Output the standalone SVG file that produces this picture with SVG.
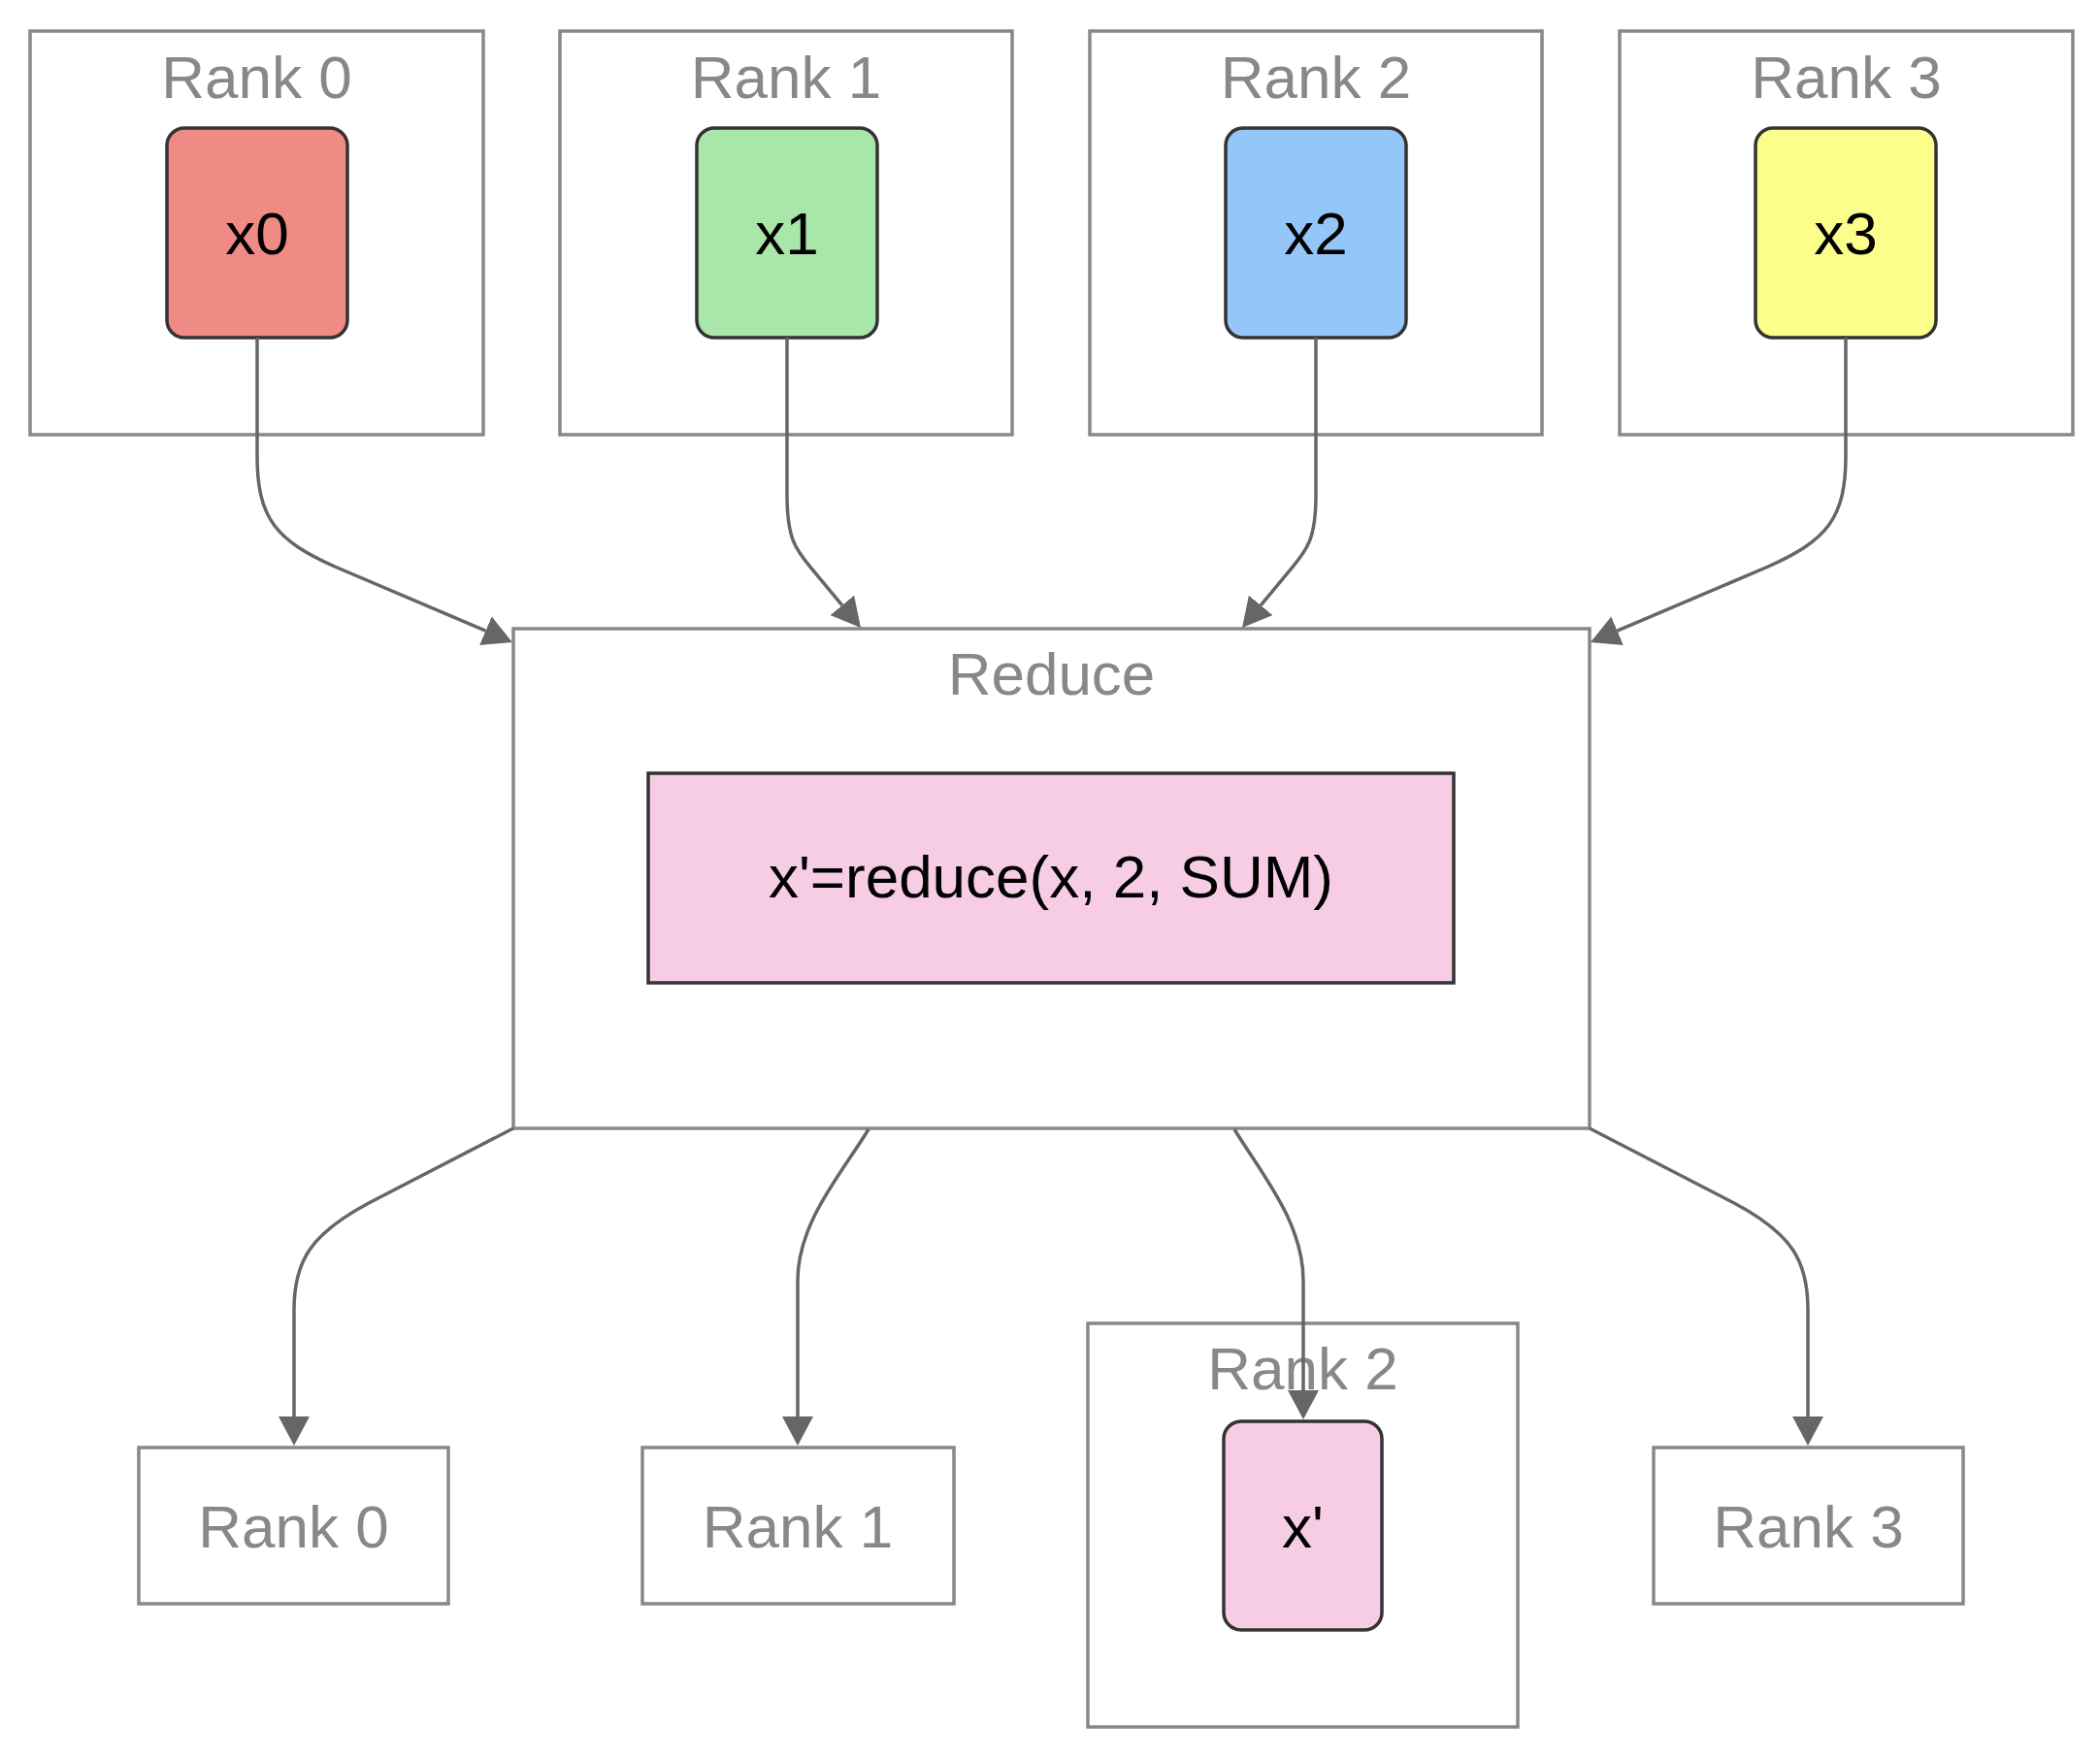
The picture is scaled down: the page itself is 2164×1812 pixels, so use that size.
<svg xmlns="http://www.w3.org/2000/svg" width="2164" height="1812" viewBox="0 0 2164 1812">
<style>
.cluster{fill:#ffffff;stroke:#888888;stroke-width:3.5}
.clabel{font-family:"Liberation Sans",Arial,sans-serif;font-size:62px;fill:#888888;text-anchor:middle}
.node{stroke:#333333;stroke-width:3.5}
.ntext{font-family:"Liberation Sans",Arial,sans-serif;font-size:62px;fill:#000000;text-anchor:middle}
.edge{fill:none;stroke:#666666;stroke-width:3.5}
</style>
<defs>
<marker id="arrow" viewBox="0 0 30 32" refX="0" refY="16" markerWidth="30" markerHeight="32" markerUnits="userSpaceOnUse" orient="auto">
<path d="M0,0 L30,16 L0,32 z" fill="#666666"/>
</marker>
</defs>
<rect width="2164" height="1812" fill="#ffffff"/>

<g id="cluster-rank0-top">
<rect class="cluster" x="31" y="32" width="467" height="416"/>
<text class="clabel" x="264.5" y="101">Rank 0</text>
</g>
<g id="cluster-rank1-top">
<rect class="cluster" x="577" y="32" width="466" height="416"/>
<text class="clabel" x="810" y="101">Rank 1</text>
</g>
<g id="cluster-rank2-top">
<rect class="cluster" x="1123" y="32" width="466" height="416"/>
<text class="clabel" x="1356" y="101">Rank 2</text>
</g>
<g id="cluster-rank3-top">
<rect class="cluster" x="1669" y="32" width="467" height="416"/>
<text class="clabel" x="1902.5" y="101">Rank 3</text>
</g>

<g id="node-x0">
<rect class="node" x="172" y="132" width="186" height="216" rx="18" ry="18" fill="#ef8b84"/>
<text class="ntext" x="265" y="262">x0</text>
</g>
<g id="node-x1">
<rect class="node" x="718" y="132" width="186" height="216" rx="18" ry="18" fill="#a9e6a9"/>
<text class="ntext" x="811" y="262">x1</text>
</g>
<g id="node-x2">
<rect class="node" x="1263" y="132" width="186" height="216" rx="18" ry="18" fill="#94c6fa"/>
<text class="ntext" x="1356" y="262">x2</text>
</g>
<g id="node-x3">
<rect class="node" x="1809" y="132" width="186" height="216" rx="18" ry="18" fill="#fbfe8b"/>
<text class="ntext" x="1902" y="262">x3</text>
</g>

<g id="cluster-reduce">
<rect class="cluster" x="529" y="648" width="1109" height="515"/>
<text class="clabel" x="1083.5" y="716">Reduce</text>
</g>
<g id="node-reduce">
<rect class="node" x="668" y="797" width="830" height="216" fill="#f7cde5"/>
<text class="ntext" x="1083" y="925">x'=reduce(x, 2, SUM)</text>
</g>

<g id="node-rank0-bottom">
<rect class="cluster" x="143" y="1492" width="319" height="161"/>
<text class="clabel" x="302.5" y="1595">Rank 0</text>
</g>
<g id="node-rank1-bottom">
<rect class="cluster" x="662" y="1492" width="321" height="161"/>
<text class="clabel" x="822" y="1595">Rank 1</text>
</g>
<g id="cluster-rank2-bottom">
<rect class="cluster" x="1121" y="1364" width="443" height="416"/>
<text class="clabel" x="1342.5" y="1432">Rank 2</text>
</g>
<g id="node-xprime">
<rect class="node" x="1261" y="1465" width="163" height="215" rx="18" ry="18" fill="#f7cde5"/>
<text class="ntext" x="1342.5" y="1595">x'</text>
</g>
<g id="node-rank3-bottom">
<rect class="cluster" x="1704" y="1492" width="319" height="161"/>
<text class="clabel" x="1863.5" y="1595">Rank 3</text>
</g>

<g id="connectors">
<path class="edge" marker-end="url(#arrow)" d="M265,348 L265,470 C265,535 285,557 345,584 L500.4,650.2"/>
<path class="edge" marker-end="url(#arrow)" d="M811,348 L811,510 C811,555 819.8,566.2 835.8,585.4 L867.8,623.9"/>
<path class="edge" marker-end="url(#arrow)" d="M1356,348 L1356,510 C1356,555 1347.2,566.2 1331.2,585.4 L1299.2,623.9"/>
<path class="edge" marker-end="url(#arrow)" d="M1902,348 L1902,470 C1902,535 1882,557 1822,584 L1666.6,650.2"/>
<path class="edge" marker-end="url(#arrow)" d="M529,1163 L380,1240 C320,1272 303,1300 303,1350 L303,1460"/>
<path class="edge" marker-end="url(#arrow)" d="M895,1164 C867,1210 822,1260 822,1320 L822,1460"/>
<path class="edge" marker-end="url(#arrow)" d="M1272,1164 C1300,1210 1343,1260 1343,1320 L1343,1433"/>
<path class="edge" marker-end="url(#arrow)" d="M1638,1163 L1787,1240 C1847,1272 1863,1300 1863,1350 L1863,1460"/>
</g>
</svg>
